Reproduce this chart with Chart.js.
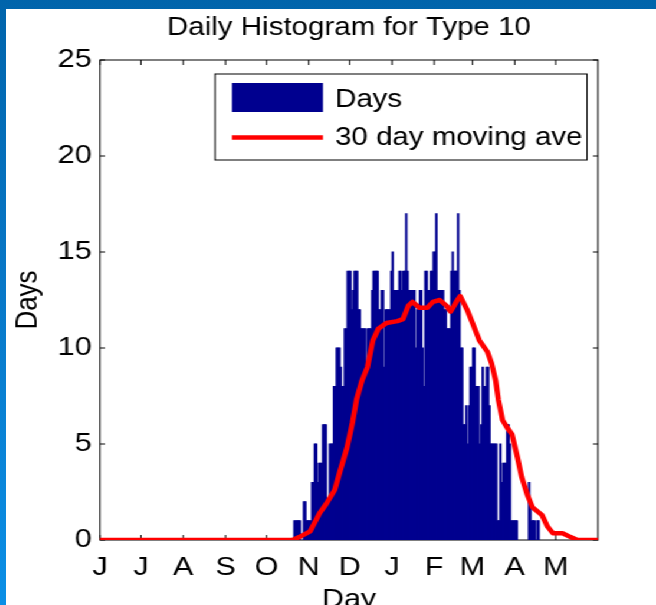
<!DOCTYPE html>
<html>
<head>
<meta charset="utf-8">
<title>Daily Histogram for Type 10</title>
<script src="https://cdn.jsdelivr.net/npm/chart.js@4/dist/chart.umd.min.js"></script>
<style>
  html, body { margin: 0; padding: 0; }
  body {
    width: 656px; height: 605px; overflow: hidden; position: relative;
    background: linear-gradient(180deg, #0064ab 0%, #0877c6 45%, #0b8fe6 100%);
  }
  /* white figure sheet, widened horizontally like the slide it sits on */
  #sheet {
    position: absolute; left: 6px; top: 9px;
    width: 551px; height: 596px; background: #fff;
    transform: scaleX(1.17967); transform-origin: 0 0;
  }
  canvas { display: block; }
</style>
</head>
<body>
<div id="sheet"><canvas id="chart" width="551" height="596"></canvas></div>
<script>
// Axis: day of the season, 0 = 1 June, 365 = end of May
const monthLetters = ['J', 'J', 'A', 'S', 'O', 'N', 'D', 'J', 'F', 'M', 'A', 'M'];
const monthStarts  = [0, 30, 61, 92, 122, 153, 183, 214, 245, 273, 304, 334];
const seasonLength = 365;

// Daily counts, one value per calendar day (June-September are all zero)
const octCounts = [0,0,0,0,0,0,0,0,0,0, 0,0,0,0,0,0,0,0,0,0, 1,1,1,1,1,0,0,2,2,1,1];
const novCounts = [1,1,3,3,5,5,3,4,4,4, 6,6,6,2,2,5,5,5,8,8, 10,10,10,9,8,8,11,11,14,14];
const decCounts = [14,12,13,14,14,14,12,12,11,11, 11,11,9,11,11,11,13,14,14,14, 14,12,12,13,13,9,12,12,12,12, 14];
const janCounts = [15,13,13,13,13,14,14,13,14,14, 17,14,13,13,13,13,13,10,12,12, 13,13,10,8,14,14,13,13,14,14, 15];
const febCounts = [15,17,13,13,13,13,13,12,12,11, 11,11,14,15,14,14,14,17,13,10, 10,6,6,7,5,7,9,9];
const marCounts = [10,10,8,8,8,5,6,9,8,8, 9,9,7,5,5,5,5,5,1,1, 5,3,4,4,4,6,6,5,1,1, 1];
const aprCounts = [1,1,0,0,0,0,0,0,0,0, 3,2,1,1,1,0,1,1];

// 30 day moving average, sampled along the curve (day, value)
const maDays   = [0, 141, 146, 154, 161, 166, 172, 176, 181, 185, 188, 192, 196, 200, 204, 210,
                  218, 222, 226, 229, 234, 240, 244, 249, 254, 257, 262, 264, 269, 273, 278,
                  284, 287, 290, 292, 295, 298, 302, 306, 309, 313, 317, 324, 328, 332, 339,
                  345, 350, 365];
const maValues = [0, 0, 0.15, 0.45, 1.4, 1.9, 2.6, 3.6, 4.8, 6.1, 7.3, 8.3, 9.0, 10.4, 11.0, 11.3,
                  11.4, 11.5, 12.2, 12.4, 12.1, 12.1, 12.4, 12.5, 12.2, 11.9, 12.5, 12.7, 12.0, 11.3, 10.4,
                  9.8, 9.2, 8.3, 7.3, 6.25, 5.9, 5.5, 4.3, 3.3, 2.4, 1.7, 1.3, 0.7, 0.35, 0.35,
                  0.15, 0, 0];

const yTickMax = 25, yTickStep = 5;
const seriesNames = ['Days', '30 day moving ave'];

// one bar per day, centred in its day
const monthBlocks = [
  [monthStarts[4], octCounts], [monthStarts[5], novCounts], [monthStarts[6], decCounts],
  [monthStarts[7], janCounts], [monthStarts[8], febCounts], [monthStarts[9], marCounts],
  [monthStarts[10], aprCounts]
];
const barPoints = [];
monthBlocks.forEach(([start, counts]) => {
  counts.forEach((c, i) => { if (c > 0) barPoints.push({ x: start + i + 0.5, y: c }); });
});
const maPoints = maDays.map((d, i) => ({ x: d, y: maValues[i] }));

Chart.defaults.font.family = "'Liberation Sans', Arial, Helvetica, sans-serif";
Chart.defaults.color = '#000';

// boxed axes with short inward ticks on all four sides
const boxedAxes = {
  id: 'boxedAxes',
  beforeDatasetsDraw(chart) {
    const { ctx, chartArea: a, scales: { x, y } } = chart;
    const tickX = 5, tickY = 4.2;
    ctx.save();
    ctx.strokeStyle = '#000';
    ctx.lineWidth = 1;
    ctx.beginPath();
    y.ticks.forEach(t => {
      const py = y.getPixelForValue(t.value);
      ctx.moveTo(a.left, py);  ctx.lineTo(a.left + tickY, py);
      ctx.moveTo(a.right, py); ctx.lineTo(a.right - tickY, py);
    });
    x.ticks.forEach(t => {
      const px = x.getPixelForValue(t.value);
      ctx.moveTo(px, a.bottom); ctx.lineTo(px, a.bottom - tickX);
      ctx.moveTo(px, a.top);    ctx.lineTo(px, a.top + tickX);
    });
    ctx.stroke();
    ctx.strokeRect(a.left, a.top, a.right - a.left, a.bottom - a.top);
    ctx.restore();
  }
};

// legend drawn inside the axes, top right, with a frame
const boxLegend = {
  id: 'boxLegend',
  afterDatasetsDraw(chart) {
    const { ctx, chartArea: a } = chart;
    const barSet = chart.data.datasets.find(d => d.type === 'bar');
    const lineSet = chart.data.datasets.find(d => d.type === 'line');
    const left = a.left + 97.5, right = a.right - 9.3;
    const top = a.top + 14, height = 86;
    const swX = left + 14.4, swW = 77.1, textX = swX + swW + 10.2;
    ctx.save();
    ctx.fillStyle = '#fff';
    ctx.fillRect(left, top, right - left, height);
    ctx.strokeStyle = '#000';
    ctx.lineWidth = 1;
    ctx.strokeRect(left, top, right - left, height);
    ctx.fillStyle = barSet.backgroundColor;
    ctx.fillRect(swX, top + 9, swW, 29);
    ctx.strokeStyle = lineSet.borderColor;
    ctx.lineWidth = lineSet.borderWidth;
    ctx.beginPath();
    ctx.moveTo(swX, top + 63.5);
    ctx.lineTo(swX + swW, top + 63.5);
    ctx.stroke();
    ctx.fillStyle = '#000';
    ctx.font = "25px 'Liberation Sans', Arial, sans-serif";
    ctx.textBaseline = 'middle';
    ctx.textAlign = 'left';
    ctx.fillText(barSet.label, textX, top + 26);
    ctx.fillText(lineSet.label, textX, top + 64);
    ctx.restore();
  }
};

new Chart(document.getElementById('chart'), {
  type: 'bar',
  data: {
    datasets: [
      {
        type: 'line', label: seriesNames[1], data: maPoints,
        borderColor: '#ff0000', borderWidth: 4.5, pointRadius: 0, tension: 0,
        borderJoinStyle: 'round', borderCapStyle: 'round', order: 0
      },
      {
        type: 'bar', label: seriesNames[0], data: barPoints,
        backgroundColor: '#00008f', borderWidth: 0, inflateAmount: 0.45,
        barPercentage: 1, categoryPercentage: 1, order: 1
      }
    ]
  },
  options: {
    responsive: false,
    animation: false,
    events: [],
    layout: { padding: { left: 0, right: 49.17, top: 0, bottom: 0 } },
    plugins: {
      legend: { display: false },
      tooltip: { enabled: false },
      title: {
        display: true, fullSize: false,
        text: 'Daily Histogram for Type 10',
        color: '#000',
        font: { size: 25, weight: 'normal' },
        padding: { top: 4.5, bottom: 16.5 }
      }
    },
    scales: {
      x: {
        type: 'linear', min: 0, max: seasonLength, offset: false,
        grid: { display: false, drawTicks: false },
        border: { display: false },
        afterBuildTicks: s => { s.ticks = monthStarts.map(v => ({ value: v })); },
        ticks: {
          autoSkip: false, maxRotation: 0, minRotation: 0, padding: 12,
          color: '#000', font: { size: 26 },
          callback: (v, i) => monthLetters[i]
        },
        title: {
          display: true, text: 'Day', color: '#000',
          font: { size: 26 }, padding: { top: 0, bottom: -10 }
        },
        afterFit: s => { s.height = 65; }
      },
      y: {
        min: 0, max: yTickMax,
        grid: { display: false, drawTicks: false },
        border: { display: false },
        ticks: { stepSize: yTickStep, padding: 7, color: '#000', font: { size: 26 } },
        title: {
          display: true, text: 'Days', color: '#000',
          font: { size: 26 }, padding: { top: 3.5, bottom: 0 }
        },
        afterFit: s => { s.width = 79.68; }
      }
    }
  },
  plugins: [boxedAxes, boxLegend]
});
</script>
</body>
</html>
